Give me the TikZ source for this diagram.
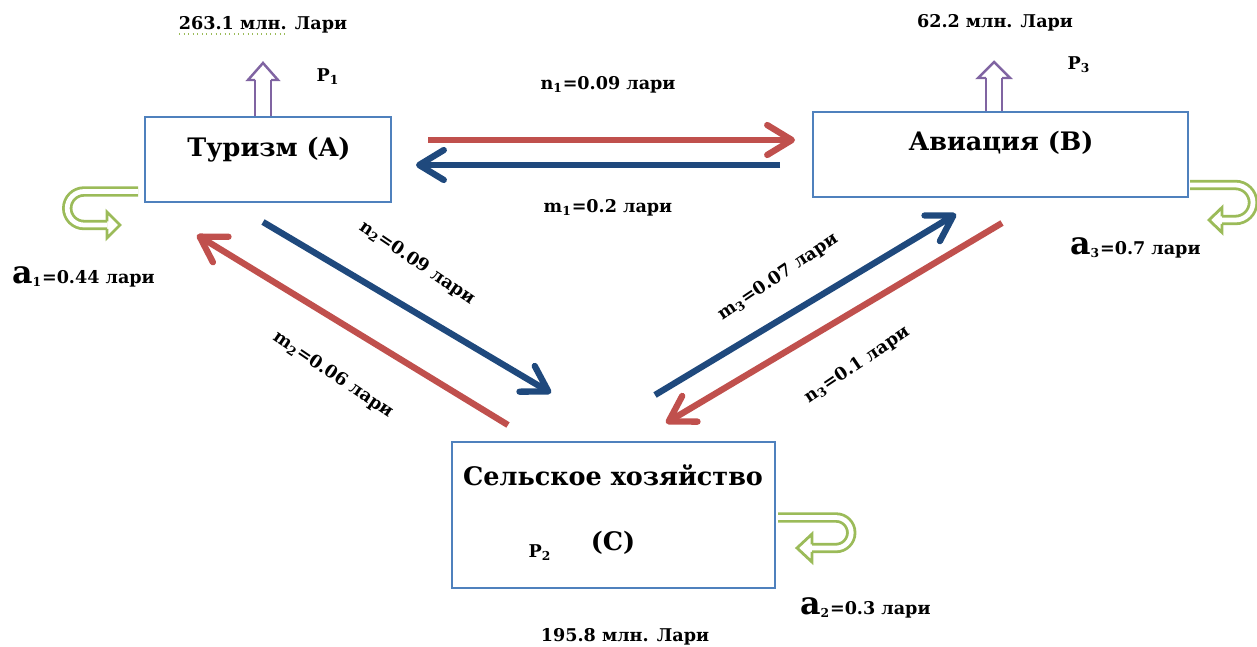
\documentclass[tikz,border=0pt]{standalone}
\usepackage{fontspec}
\setmainfont{DejaVu Serif}
\usetikzlibrary{arrows.meta}
\definecolor{boxblue}{RGB}{79,129,189}
\definecolor{flowred}{RGB}{192,80,77}
\definecolor{flowblue}{RGB}{31,73,125}
\definecolor{loopgreen}{RGB}{155,187,89}
\definecolor{outpurple}{RGB}{128,100,162}
\begin{document}
\begin{tikzpicture}[x=0.02cm, y=-0.02cm,
	sector/.style={draw=boxblue, line width=1.2pt, inner sep=0pt},
	sectorname/.style={font=\fontsize{14.5}{17}\selectfont\bfseries},
	money/.style={font=\fontsize{10}{12}\selectfont\bfseries},
	price/.style={font=\fontsize{10}{12}\selectfont\bfseries, inner sep=1pt},
	flow/.style={line width=3.6pt, -{Straight Barb[round, length=14pt, width=17pt]}},
	outflow/.style={draw=outpurple, line width=1.4pt, double, double distance=7.6pt},
	outhead/.style={draw=outpurple, line width=1.4pt},
	selfflow/.style={draw=loopgreen, line width=1.6pt, double, double distance=2.7pt},
	selfhead/.style={draw=loopgreen, line width=1.6pt}]
	\useasboundingbox (0,0) rectangle (1257,646);

	\node[sector, minimum width=4.92cm, minimum height=1.7cm] (A) at (268,159.5) {};
	\node[sector, minimum width=7.5cm, minimum height=1.7cm] (B) at (1000.5,154.5) {};
	\node[sector, minimum width=6.46cm, minimum height=2.92cm] (C) at (613.5,515) {};
	\node[sectorname] (Aname) at (269,150) {Туризм (A)};
	\node[sectorname] (Bname) at (1001,143) {Авиация (B)};
	\node[sectorname] (Cname) at (613,475) {Сельское хозяйство};
	\node[sectorname] (Cletter) at (613,543) {(C)};

	\node[money] (sumA) at (263,25) {263.1 млн. Лари};
	\node[money] (sumB) at (995,23) {62.2 млн. Лари};
	\node[money] (sumC) at (625,637) {195.8 млн. Лари};
	\draw[loopgreen, line width=0.6pt, dotted] (179,34) -- (288,34);
	\node[money] (P1) at (328,77) {P\textsubscript{1}};
	\node[money] (P3) at (1079,65) {P\textsubscript{3}};
	\node[money] (P2) at (540,553) {P\textsubscript{2}};

	\draw[outflow] (263,116) -- (263,80);
	\draw[outhead] (255,80) -- (248,80) -- (263,63) -- (278,80) -- (271,80);
	\draw[outflow] (994,111) -- (994,78);
	\draw[outhead] (986,78) -- (978,78) -- (994,62) -- (1010,78) -- (1002,78);

	\coordinate (n1s) at (428,140);
	\coordinate (n1e) at (795,140);
	\coordinate (m1s) at (780,165);
	\coordinate (m1e) at (416,165);
	\coordinate (n2s) at (263,222);
	\coordinate (n2e) at (551,393);
	\coordinate (m2s) at (508,425);
	\coordinate (m2e) at (197,235);
	\coordinate (m3s) at (655,395);
	\coordinate (m3e) at (956,214);
	\coordinate (n3s) at (1002,223);
	\coordinate (n3e) at (666,423);
	\draw[flow, flowred] (n1s) -- (n1e);
	\draw[flow, flowblue] (m1s) -- (m1e);
	\draw[flow, flowblue] (n2s) -- (n2e);
	\draw[flow, flowred] (m2s) -- (m2e);
	\draw[flow, flowblue] (m3s) -- (m3e);
	\draw[flow, flowred] (n3s) -- (n3e);

	\node[price] (n1) at (608,85) {n\textsubscript{1}=0.09 лари};
	\node[price] (m1) at (608,208) {m\textsubscript{1}=0.2 лари};
	\node[price, rotate=-34] (n2) at (417,263) {n\textsubscript{2}=0.09 лари};
	\node[price, rotate=-34] (m2) at (333,375) {m\textsubscript{2}=0.06 лари};
	\node[price, rotate=34] (m3) at (778,277) {m\textsubscript{3}=0.07 лари};
	\node[price, rotate=34] (n3) at (857,365) {n\textsubscript{3}=0.1 лари};

	\draw[selfflow] (138,191.5) -- (84,191.5) arc[start angle=270, end angle=90, radius=16.75] -- (107,225);
	\draw[selfhead] (107,221.25) -- (107,212) -- (120,225) -- (107,238) -- (107,228.75);
	\draw[selfflow] (1190,185) -- (1235.5,185) arc[start angle=-90, end angle=90, radius=17.5] -- (1222,220);
	\draw[selfhead] (1222,216.25) -- (1222,207.5) -- (1209,220) -- (1222,232.5) -- (1222,223.75);
	\draw[selfflow] (778,517.5) -- (836,517.5) arc[start angle=-90, end angle=90, radius=15.25] -- (812,548);
	\draw[selfhead] (812,544.25) -- (812,534) -- (797,548) -- (812,562) -- (812,551.75);

	\node[price, anchor=west] (a1) at (10,277) {{\fontsize{18}{20}\selectfont a}\textsubscript{1}=0.44 лари};
	\node[price, anchor=west] (a3) at (1068,248) {{\fontsize{18}{20}\selectfont a}\textsubscript{3}=0.7 лари};
	\node[price, anchor=west] (a2) at (798,608) {{\fontsize{18}{20}\selectfont a}\textsubscript{2}=0.3 лари};
\end{tikzpicture}
\end{document}
